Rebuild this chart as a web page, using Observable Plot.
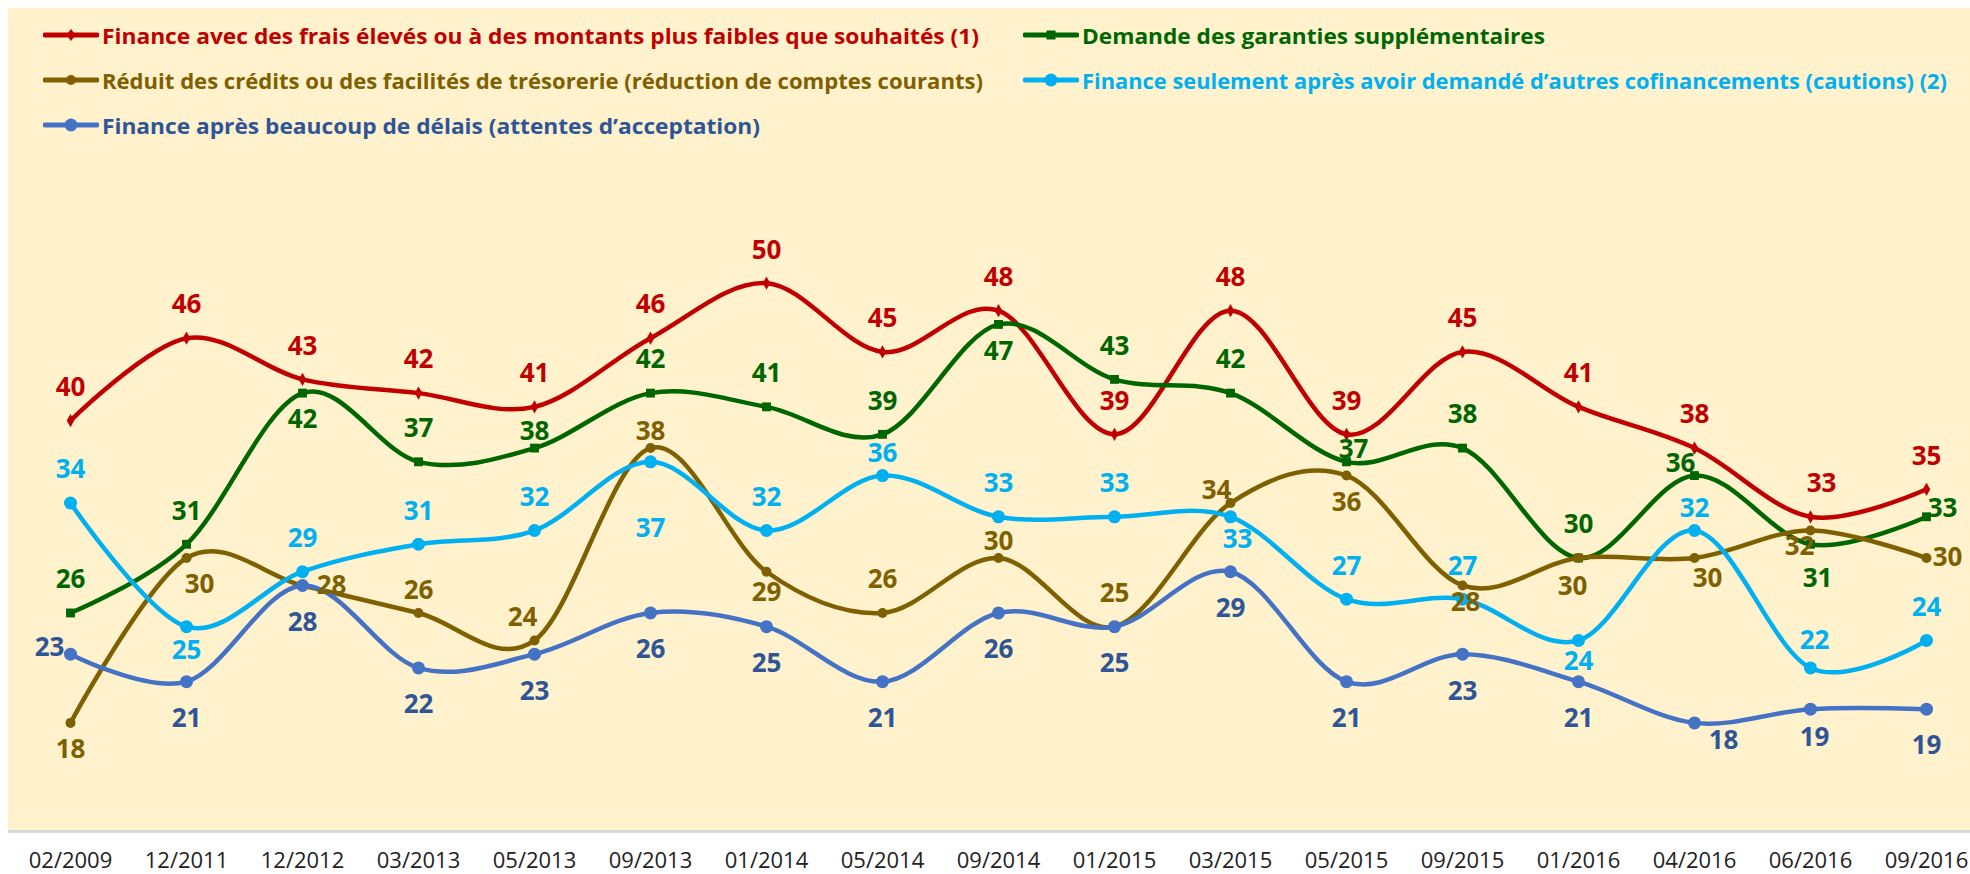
<!DOCTYPE html>
<html>
<head>
<meta charset="utf-8">
<script src="https://cdn.jsdelivr.net/npm/d3@7"></script>
<script src="https://cdn.jsdelivr.net/npm/@observablehq/plot@0.6"></script>
<style>
  html, body { margin: 0; padding: 0; background: #ffffff; }
  #wrap { position: relative; width: 1970px; height: 874px; overflow: hidden; }
  #panel { position: absolute; left: 8px; top: 8px; width: 1962px; height: 822px;
           background: #FFF2CC; border-bottom: 3px solid #D9D9D9; }
  #chart { position: absolute; left: 0; top: 0; }
  .leg { position: absolute; display: flex; align-items: center; height: 30px;
         font-family: "Open Sans", sans-serif;
         font-weight: bold; font-size: 22px; white-space: nowrap; }
  .leg svg { margin-right: 3px; flex: none; }
  .leg span { display: inline-block; transform-origin: 0 50%; }
</style>
</head>
<body>
<div id="wrap">
  <div id="panel"></div>
  <div id="chart"></div>
</div>
<script>
// ---- data ----
const dates = ["02/2009","12/2011","12/2012","03/2013","05/2013","09/2013","01/2014","05/2014","09/2014","01/2015","03/2015","05/2015","09/2015","01/2016","04/2016","06/2016","09/2016"];

const seriesNames = [
  "Finance avec des frais élevés ou à des montants plus faibles que souhaités (1)",
  "Demande des garanties supplémentaires",
  "Réduit des crédits ou des facilités de trésorerie (réduction de comptes courants)",
  "Finance seulement après avoir demandé d’autres cofinancements (cautions) (2)",
  "Finance après beaucoup de délais (attentes d’acceptation)"
];

const fraisEleves     = [40,46,43,42,41,46,50,45,48,39,48,39,45,41,38,33,35];
const garanties       = [26,31,42,37,38,42,41,39,47,43,42,37,38,30,36,31,33];
const reduitCredits   = [18,30,28,26,24,38,29,26,30,25,34,36,28,30,30,32,30];
const cofinancements  = [34,25,29,31,32,37,32,36,33,33,33,27,27,24,32,22,24];
const delais          = [23,21,28,22,23,26,25,21,26,25,29,21,23,21,18,19,19];

// label placement codes (t = above, b = below, l = left, r = right, n = near, f = far ...)
const fraisElevesLab    = ["t","t","t","t","t","t","t","t","t","t","t","t","t","t","t","tr","t"];
const garantiesLab      = ["t","t","b","t","tn","t","t","t","b","t","t","tnr","t","t","tnL","br","rt"];
const reduitCreditsLab  = ["b","bR","r","tm","tmL","tn","bn2","t","tn","t","tnL","b","bn","bl","bR2","bnL","r2"];
const cofinancementsLab = ["t","b","t","t","t","bf","t","tm","t","t","bro","t","t","bn2","tm","t2","t"];
const delaisLab         = ["l","b","b","b","b","b","b","b","b","b","b","b","b","b","bRR","bs","b"];

// ---- styles ----
const lineColors  = ["#C00000","#006600","#7F6000","#00B0F0","#4472C4"];
const labelColors = ["#C00000","#006600","#7F6000","#00B0F0","#2F5597"];
const symbols     = ["diamond","square","circle","circle","circle"];
const markerR     = [4, 5, 5, 6.5, 6.5];
const belowDy     = [27, 27, 27, 24, 37];

const values = [fraisEleves, garanties, reduitCredits, cofinancements, delais];
const labs   = [fraisElevesLab, garantiesLab, reduitCreditsLab, cofinancementsLab, delaisLab];

function offset(code, s) {
  const b = belowDy[s];
  switch (code) {
    case "t":   return [0, -33];
    case "t2":  return [4, -27];
    case "tm":  return [0, -22];
    case "tn":  return [0, -16];
    case "tnr": return [7, -12];
    case "tr":  return [11, -33];
    case "tnL": return [-14, -12];
    case "tmL": return [-12, -23];
    case "b":   return [0, b];
    case "bs":  return [4, 29];
    case "bn":  return [3, 17];
    case "bn2": return [0, 21];
    case "bl":  return [-6, 29];
    case "br":  return [7, 34];
    case "bro": return [7, 23];
    case "bR":  return [13, 27];
    case "bR2": return [13, 21];
    case "bnL": return [-11, 16];
    case "bRR": return [29, 18];
    case "bf":  return [0, 67];
    case "l":   return [-21, -7];
    case "r":   return [29, 0];
    case "r2":  return [21, 0];
    case "rt":  return [16, -8];
  }
  return [0, 0];
}

// ---- build rows ----
const rows = [];
values.forEach((arr, s) => {
  arr.forEach((v, i) => {
    const [dx, dy] = offset(labs[s][i], s);
    rows.push({series: s, date: dates[i], value: v, dx, dy});
  });
});

const marks = [];
for (let s = 0; s < 5; s++) {
  const d = rows.filter(r => r.series === s);
  marks.push(Plot.line(d, {x: "date", y: "value", stroke: lineColors[s], strokeWidth: 4.5,
                           curve: "cardinal", tension: 0, strokeLinejoin: "round", strokeLinecap: "round"}));
  marks.push(Plot.dot(d, {x: "date", y: "value", fill: lineColors[s], stroke: "none",
                          symbol: symbols[s], r: markerR[s]}));
}
// labels on top
for (let s = 0; s < 5; s++) {
  const d = rows.filter(r => r.series === s);
  const groups = d3.groups(d, r => r.dx + "," + r.dy);
  for (const [, g] of groups) {
    marks.push(Plot.text(g, {x: "date", y: "value", text: r => String(r.value),
      dx: g[0].dx, dy: g[0].dy, fill: labelColors[s], fontSize: 26, fontWeight: "bold",
      fontFamily: "Open Sans", textAnchor: "middle"}));
  }
}
marks.push(Plot.axisX({tickSize: 0, tickPadding: 12, fontSize: 22, fill: "#222",
                       fontFamily: "Open Sans", label: null}));

const chart = Plot.plot({
  width: 1970,
  height: 874,
  marginLeft: 66,
  marginRight: 41,
  marginTop: 0,
  marginBottom: 34,
  style: {background: "transparent", overflow: "visible"},
  x: {type: "point", domain: dates, padding: 0},
  y: {domain: [0, 50], range: [969.7, 282.7], axis: null},
  marks
});
document.getElementById("chart").appendChild(chart);

// ---- legend ----
const legendPos = [
  {s: 0, left: 43,   top: 35,  w: 877},
  {s: 1, left: 1023, top: 35,  w: 463},
  {s: 2, left: 43,   top: 80,  w: 881},
  {s: 3, left: 1023, top: 80,  w: 865},
  {s: 4, left: 43,   top: 125, w: 658}
];
const wrap = document.getElementById("wrap");
legendPos.forEach(({s, left, top, w: textW}) => {
  const div = document.createElement("div");
  div.className = "leg";
  div.style.left = left + "px";
  div.style.top = (top - 15) + "px";
  div.style.color = labelColors[s];
  const w = 56, h = 30;
  let sym;
  const c = lineColors[s];
  if (symbols[s] === "diamond") sym = `<path d="M${w/2},${h/2-6} L${w/2+4.5},${h/2} L${w/2},${h/2+6} L${w/2-4.5},${h/2} Z" fill="${c}"/>`;
  else if (symbols[s] === "square") sym = `<rect x="${w/2-4.5}" y="${h/2-4.5}" width="9" height="9" fill="${c}"/>`;
  else sym = `<circle cx="${w/2}" cy="${h/2}" r="${markerR[s]}" fill="${c}"/>`;
  div.innerHTML = `<svg width="${w}" height="${h}"><line x1="2" y1="${h/2}" x2="${w-2}" y2="${h/2}" stroke="${c}" stroke-width="5" stroke-linecap="round"/>${sym}</svg><span>${seriesNames[s]}</span>`;
  wrap.appendChild(div);
  const sp = div.querySelector("span");
  const k = textW / sp.getBoundingClientRect().width;
  sp.style.transform = `scaleX(${k})`;
});
</script>
</body>
</html>
